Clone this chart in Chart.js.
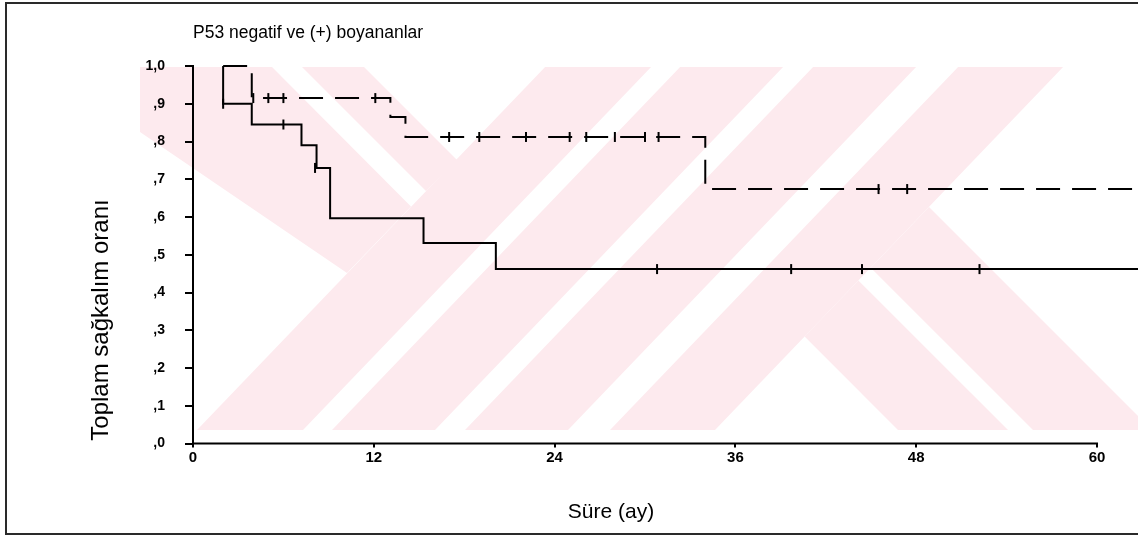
<!DOCTYPE html>
<html>
<head>
<meta charset="utf-8">
<title>P53 negatif ve (+) boyananlar</title>
<script src="https://cdn.jsdelivr.net/npm/chart.js@4.4.1/dist/chart.umd.min.js"></script>
<style>
    html, body { margin: 0; padding: 0; background: #fff; }
    #kmChart { display: block; }
</style>
</head>
<body>
<canvas id="kmChart" width="1138" height="537"></canvas>
<script>
// Kaplan-Meier egrileri (okunan degerler)
const solidTimes = [2.0, 2.0, 3.9, 7.2, 8.2, 9.1, 15.3, 20.1, 62.8];
const solidSurv = [1.0, 0.90, 0.845, 0.79, 0.73, 0.597, 0.531, 0.462, 0.462];
const solidCensorTimes = [2.0, 6.0, 8.1, 30.8, 39.7, 44.4, 52.2];
const solidCensorSurv = [0.90, 0.845, 0.73, 0.462, 0.462, 0.462, 0.462];

const dashTimes = [2.0, 3.9, 13.1, 14.1, 34.0, 62.8];
const dashSurv = [1.0, 0.915, 0.865, 0.812, 0.674, 0.674];
const dashCensorTimes = [4.0, 5.0, 6.0, 12.1, 17.0, 19.0, 22.1, 25.0, 26.1, 28.0, 30.0, 30.9, 45.5, 47.4];
const dashCensorSurv = [0.915, 0.915, 0.915, 0.915, 0.812, 0.812, 0.812, 0.812, 0.812, 0.812, 0.812, 0.812, 0.674, 0.674];

const xTicks = [0, 12, 24, 36, 48, 60];
const yTicks = [0, 0.1, 0.2, 0.3, 0.4, 0.5, 0.6, 0.7, 0.8, 0.9, 1.0];
const yTickLabels = [',0', ',1', ',2', ',3', ',4', ',5', ',6', ',7', ',8', ',9', '1,0'];

const chartTitle = 'P53 negatif ve (+) boyananlar';
const xTitle = 'Süre (ay)';
const yTitle = 'Toplam sağkalım oranı';

const FONT = "'Liberation Sans', Arial, sans-serif";
Chart.defaults.font.family = FONT;
Chart.defaults.color = '#000';

function toPoints(xs, ys) {
    return xs.map((x, i) => ({ x: x, y: ys[i] }));
}

const censorStyle = {
    showLine: false,
    pointStyle: 'line',
    rotation: 90,
    pointRadius: 5,
    pointHoverRadius: 5,
    pointBorderWidth: 2,
    borderColor: '#000',
    backgroundColor: '#000',
    clip: false
};

// arka plandaki soluk pembe filigran (sayfa pikselleri)
const WM_TOP = 67, WM_BOTTOM = 430, WM_K = 0.959;
const wmSlash = [[197, 303], [332, 435], [465, 568], [610, 715]];

function slashBand(x0, x1) {
    const dx = (WM_BOTTOM - WM_TOP) * WM_K;
    return [[x0, WM_BOTTOM], [x1, WM_BOTTOM], [x1 + dx, WM_TOP], [x0 + dx, WM_TOP]];
}

const wmShapes = wmSlash.map(b => slashBand(b[0], b[1])).concat([
    [[804.6, 336.6], [858.4, 280.4], [1008, 430], [898, 430]],
    [[870.7, 267.7], [929, 207], [1152, 430], [1033, 430]],
    [[140, 67], [272, 67], [411, 206.4], [347, 273], [140, 132]],
    [[302, 67], [364, 67], [457, 160], [426, 191]]
]);

const watermarkPlugin = {
    id: 'watermark',
    beforeDraw(chart) {
        const c = chart.ctx;
        c.save();
        c.fillStyle = '#fdeaee';
        wmShapes.forEach(poly => {
            c.beginPath();
            poly.forEach((p, i) => i ? c.lineTo(p[0], p[1]) : c.moveTo(p[0], p[1]));
            c.closePath();
            c.fill();
        });
        c.restore();
    }
};

// cerceve, basliklar, x ekseni cizgisi
const decorPlugin = {
    id: 'decor',
    afterDraw(chart) {
        const c = chart.ctx;
        const xs = chart.scales.x;
        const ys = chart.scales.y;
        c.save();

        c.strokeStyle = '#000';
        c.lineWidth = 2;
        c.beginPath();
        c.moveTo(xs.getPixelForValue(0) - 1, ys.bottom);
        c.lineTo(xs.getPixelForValue(60) + 1, ys.bottom);
        c.stroke();

        c.strokeStyle = '#2a2a2a';
        c.lineWidth = 2;
        c.beginPath();
        c.moveTo(1140, 3);
        c.lineTo(6, 3);
        c.lineTo(6, 534);
        c.lineTo(1140, 534);
        c.stroke();

        c.fillStyle = '#000';
        c.font = '17.5px ' + FONT;
        c.textAlign = 'left';
        c.textBaseline = 'alphabetic';
        c.fillText(chartTitle, xs.left, 38);

        c.font = '21px ' + FONT;
        c.textAlign = 'center';
        c.textBaseline = 'middle';
        c.fillText(xTitle, 611, 512);

        c.translate(101, 320);
        c.rotate(-Math.PI / 2);
        c.font = '24px ' + FONT;
        c.fillText(yTitle, 0, 0);
        c.restore();
    }
};

const ctx = document.getElementById('kmChart').getContext('2d');

const kmChart = new Chart(ctx, {
    type: 'scatter',
    data: {
        datasets: [
            {
                label: 'P53 (+)',
                data: toPoints(solidTimes, solidSurv),
                showLine: true,
                stepped: 'before',
                borderColor: '#000',
                borderWidth: 2,
                pointRadius: 0,
                clip: false
            },
            {
                label: 'P53 negatif',
                data: toPoints(dashTimes, dashSurv),
                showLine: true,
                stepped: 'before',
                borderColor: '#000',
                borderWidth: 2,
                borderDash: [24, 12],
                pointRadius: 0,
                clip: false
            },
            Object.assign({ label: 'sansür (+)', data: toPoints(solidCensorTimes, solidCensorSurv) }, censorStyle),
            Object.assign({ label: 'sansür negatif', data: toPoints(dashCensorTimes, dashCensorSurv) }, censorStyle)
        ]
    },
    options: {
        responsive: false,
        devicePixelRatio: 1,
        animation: false,
        events: [],
        layout: { autoPadding: false, padding: { top: 66, left: 0, right: 0, bottom: 0 } },
        plugins: {
            legend: { display: false },
            tooltip: { enabled: false },
            title: { display: false }
        },
        scales: {
            x: {
                type: 'linear',
                min: 0,
                max: 62.72,
                afterBuildTicks: (scale) => {
                    scale.ticks = xTicks.map(v => ({ value: v }));
                },
                afterFit: (scale) => {
                    scale.height = 93.5;
                    scale.paddingLeft = 0;
                    scale.paddingRight = 0;
                },
                border: { display: false },
                grid: {
                    drawOnChartArea: false,
                    drawTicks: true,
                    tickLength: 4,
                    color: '#000',
                    lineWidth: 2
                },
                ticks: {
                    padding: 1,
                    maxRotation: 0,
                    font: { size: 15, weight: 'bold' },
                    color: '#000'
                }
            },
            y: {
                type: 'linear',
                min: 0,
                max: 1,
                afterBuildTicks: (scale) => {
                    scale.ticks = yTicks.map(v => ({ value: v }));
                },
                afterFit: (scale) => { scale.width = 193; },
                border: { display: true, color: '#000', width: 2 },
                grid: {
                    drawOnChartArea: false,
                    drawTicks: true,
                    tickLength: 8,
                    color: '#000',
                    lineWidth: 2
                },
                ticks: {
                    padding: 20,
                    font: { size: 14, weight: 'bold' },
                    color: '#000',
                    callback: (value, index) => yTickLabels[index]
                }
            }
        }
    },
    plugins: [watermarkPlugin, decorPlugin]
});
</script>
</body>
</html>
